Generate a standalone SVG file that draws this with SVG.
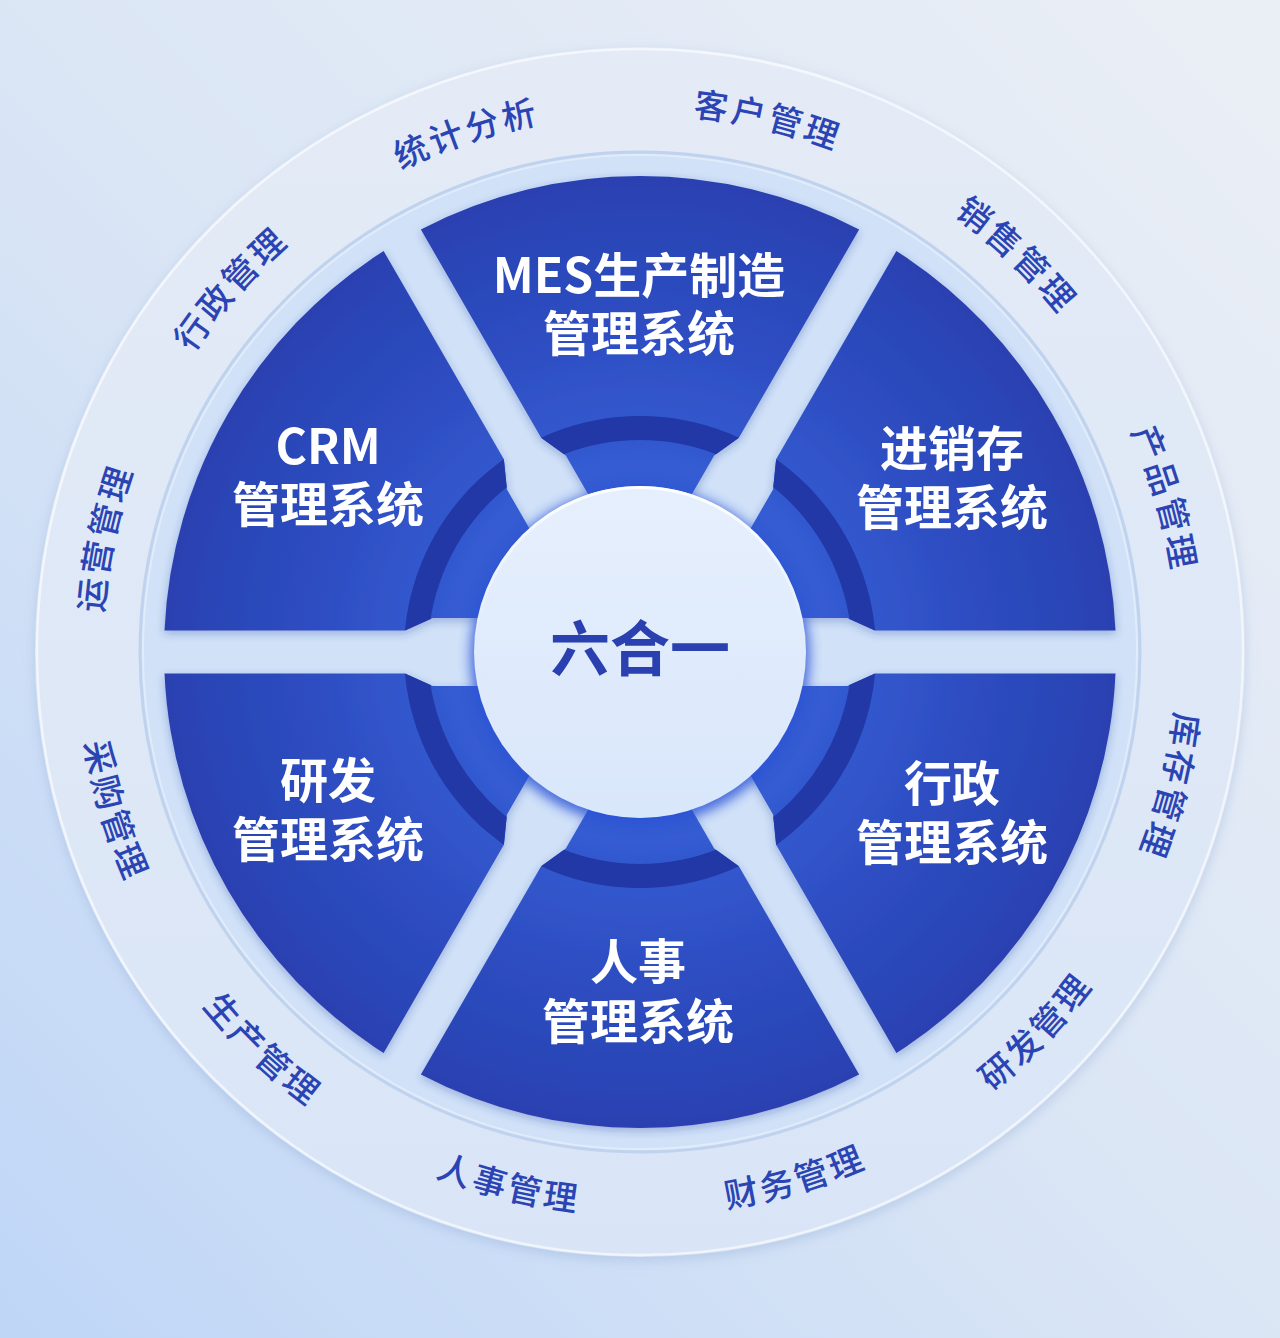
<svg xmlns="http://www.w3.org/2000/svg" xmlns:xlink="http://www.w3.org/1999/xlink" width="1280" height="1338" viewBox="0 0 1280 1338">
<style>
.ring-label{font-family:"Noto Sans CJK SC","Noto Sans",sans-serif;font-size:34px;font-weight:500;fill:#2a44b4;letter-spacing:3px}
.sec-label{font-family:"Noto Sans CJK SC","Noto Sans",sans-serif;font-size:48px;font-weight:700;fill:#ffffff;text-anchor:middle}
.hub-label{font-family:"Noto Sans CJK SC","Noto Sans",sans-serif;font-size:60px;font-weight:700;fill:#2a40b0;text-anchor:middle}
</style>
<defs>
<linearGradient id="bg" x1="0" y1="1" x2="1" y2="0">
<stop offset="0" stop-color="#bfd6f7"/>
<stop offset="0.5" stop-color="#dbe6f5"/>
<stop offset="1" stop-color="#ebeff5"/>
</linearGradient>
<linearGradient id="band" x1="0" y1="0" x2="0" y2="1">
<stop offset="0" stop-color="#e4ebf6"/>
<stop offset="1" stop-color="#d9e5f7"/>
</linearGradient>
<radialGradient id="secFill" gradientUnits="userSpaceOnUse" cx="0" cy="0" r="476">
<stop offset="0.4" stop-color="#345bd2"/>
<stop offset="0.72" stop-color="#2d4cc0"/>
<stop offset="1" stop-color="#2a41b1"/>
</radialGradient>
<linearGradient id="hubFill" x1="0" y1="0" x2="0" y2="1">
<stop offset="0" stop-color="#e6effd"/>
<stop offset="1" stop-color="#d9e7fb"/>
</linearGradient>
<linearGradient id="hubRim" x1="0" y1="0" x2="0" y2="1">
<stop offset="0" stop-color="#ffffff" stop-opacity="0.95"/>
<stop offset="0.45" stop-color="#ffffff" stop-opacity="0"/>
</linearGradient>
<filter id="bandShadow" x="-10%" y="-10%" width="120%" height="120%">
<feDropShadow dx="0" dy="4" stdDeviation="6" flood-color="#8faad6" flood-opacity="0.4"/>
</filter>
<filter id="secShadow" x="-10%" y="-10%" width="120%" height="120%">
<feDropShadow dx="0" dy="3" stdDeviation="4" flood-color="#1c3a9a" flood-opacity="0.3"/>
</filter>
<filter id="glow" x="-30%" y="-30%" width="160%" height="160%">
<feGaussianBlur stdDeviation="6"/>
</filter>
<path id="sec" d="M -219.14,-422.55 A 476 476 0 0 1 219.14,-422.55 L 98.89,-214.28 L 74.18,-196.46 L 43.61,-143.52 A 150 150 0 0 0 -43.61,-143.52 L -74.18,-196.46 L -98.89,-214.28 Z"/>
<clipPath id="secClip">
<use href="#sec"/>
<use href="#sec" transform="rotate(60)"/>
<use href="#sec" transform="rotate(120)"/>
<use href="#sec" transform="rotate(180)"/>
<use href="#sec" transform="rotate(240)"/>
<use href="#sec" transform="rotate(300)"/>
</clipPath>
<path id="p1" d="M 269.6,261.7 A 538 538 0 0 1 700.9,117.5"/>
<path id="p2" d="M 532.7,124.8 A 538 538 0 0 1 974.9,231.0"/>
<path id="p3" d="M 810.7,141.8 A 538 538 0 0 1 1140.6,454.8"/>
<path id="p4" d="M 1044.2,296.9 A 538 538 0 0 1 1171.8,733.4"/>
<path id="p5" d="M 1168.5,551.2 A 538 538 0 0 1 1056.9,992.0"/>
<path id="p6" d="M 843.6,1176.9 A 563 563 0 0 0 1172.9,833.5"/>
<path id="p7" d="M 555.8,1208.7 A 563 563 0 0 0 1012.3,1074.3"/>
<path id="p8" d="M 287.2,1090.7 A 563 563 0 0 0 749.3,1204.3"/>
<path id="p9" d="M 116.2,858.3 A 563 563 0 0 0 461.4,1185.9"/>
<path id="p10" d="M 82.7,571.7 A 563 563 0 0 0 220.3,1027.2"/>
<path id="p11" d="M 115.8,773.0 A 538 538 0 0 1 210.3,328.2"/>
<path id="p12" d="M 124.4,498.3 A 538 538 0 0 1 426.4,158.2"/>
</defs>

<rect width="1280" height="1338" fill="url(#bg)"/>

<g id="outer-ring">
<circle cx="640" cy="652" r="605" fill="url(#band)" filter="url(#bandShadow)"/>
<circle cx="640" cy="652" r="603" fill="none" stroke="#ffffff" stroke-opacity="0.6" stroke-width="2.5"/>
<circle cx="640" cy="652" r="500" fill="#d0e1f8" stroke="#bfd2ee" stroke-width="3"/>
<circle cx="640" cy="652" r="497" fill="none" stroke="#e6eefa" stroke-opacity="0.8" stroke-width="2"/>
</g>

<g id="ring-labels">
<text class="ring-label"><textPath href="#p1" startOffset="50%" text-anchor="middle">统计分析</textPath></text>
<text class="ring-label"><textPath href="#p2" startOffset="50%" text-anchor="middle">客户管理</textPath></text>
<text class="ring-label"><textPath href="#p3" startOffset="50%" text-anchor="middle">销售管理</textPath></text>
<text class="ring-label"><textPath href="#p4" startOffset="50%" text-anchor="middle">产品管理</textPath></text>
<text class="ring-label"><textPath href="#p5" startOffset="50%" text-anchor="middle">库存管理</textPath></text>
<text class="ring-label"><textPath href="#p6" startOffset="50%" text-anchor="middle">研发管理</textPath></text>
<text class="ring-label"><textPath href="#p7" startOffset="50%" text-anchor="middle">财务管理</textPath></text>
<text class="ring-label"><textPath href="#p8" startOffset="50%" text-anchor="middle">人事管理</textPath></text>
<text class="ring-label"><textPath href="#p9" startOffset="50%" text-anchor="middle">生产管理</textPath></text>
<text class="ring-label"><textPath href="#p10" startOffset="50%" text-anchor="middle">采购管理</textPath></text>
<text class="ring-label"><textPath href="#p11" startOffset="50%" text-anchor="middle">运营管理</textPath></text>
<text class="ring-label"><textPath href="#p12" startOffset="50%" text-anchor="middle">行政管理</textPath></text>
</g>

<g id="wheel" transform="translate(640,652)">
<g filter="url(#secShadow)" fill="url(#secFill)">
<use id="sector-mes" href="#sec"/>
<use id="sector-jxc" href="#sec" transform="rotate(60)"/>
<use id="sector-xz" href="#sec" transform="rotate(120)"/>
<use id="sector-rs" href="#sec" transform="rotate(180)"/>
<use id="sector-yf" href="#sec" transform="rotate(240)"/>
<use id="sector-crm" href="#sec" transform="rotate(300)"/>
</g>
<circle cx="0" cy="0" r="224" fill="none" stroke="#2138a6" stroke-width="24" clip-path="url(#secClip)"/>
</g>

<g id="node-mes"><text class="sec-label"><tspan x="639" y="293">MES生产制造</tspan><tspan x="639" y="351">管理系统</tspan></text></g>
<g id="node-crm"><text class="sec-label"><tspan x="328" y="464">CRM</tspan><tspan x="328" y="522">管理系统</tspan></text></g>
<g id="node-jxc"><text class="sec-label"><tspan x="952" y="466">进销存</tspan><tspan x="952" y="525">管理系统</tspan></text></g>
<g id="node-yf"><text class="sec-label"><tspan x="328" y="798">研发</tspan><tspan x="328" y="857">管理系统</tspan></text></g>
<g id="node-xz"><text class="sec-label"><tspan x="952" y="801">行政</tspan><tspan x="952" y="860">管理系统</tspan></text></g>
<g id="node-rs"><text class="sec-label"><tspan x="638" y="979">人事</tspan><tspan x="638" y="1039">管理系统</tspan></text></g>

<g id="hub">
<circle cx="640" cy="656" r="170" fill="#2a52d6" opacity="0.8" filter="url(#glow)"/>
<circle cx="640" cy="652" r="166" fill="url(#hubFill)"/>
<circle cx="640" cy="652" r="164.5" fill="none" stroke="url(#hubRim)" stroke-width="3"/>
<text class="hub-label" x="640" y="671">六合一</text>
</g>
</svg>
